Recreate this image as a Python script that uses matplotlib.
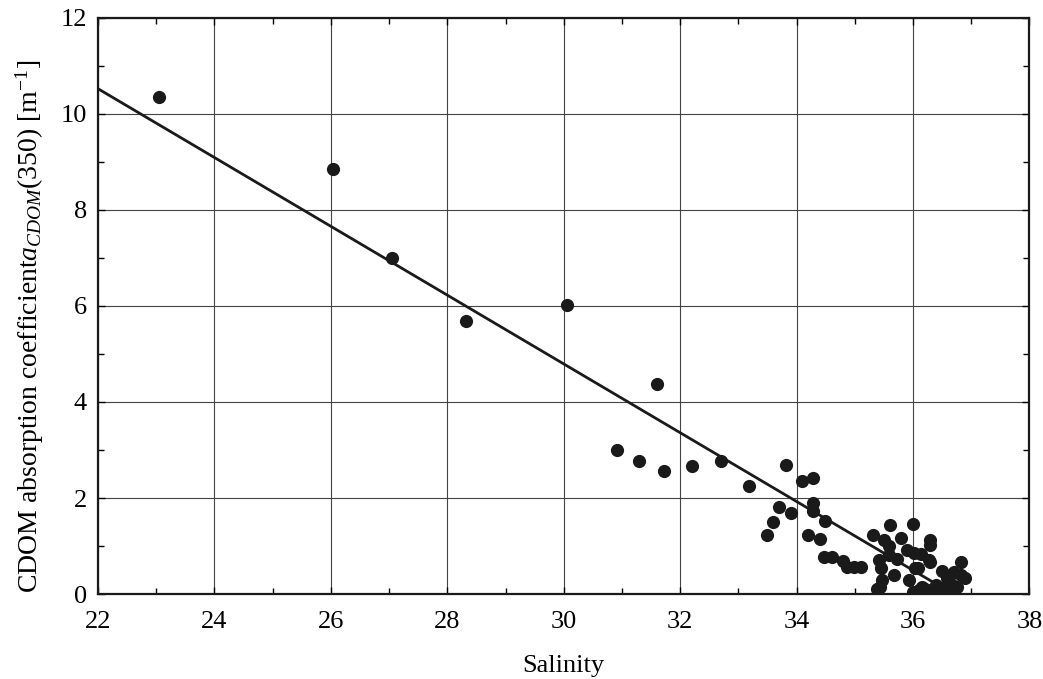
import matplotlib
matplotlib.use("Agg")
import matplotlib.pyplot as plt
from matplotlib.ticker import MultipleLocator

# salinity / a_CDOM(350) samples
salinity = [
    23.05, 26.03, 27.05, 28.32, 30.05, 31.60,
    30.91, 31.29, 31.72, 32.20, 32.71, 33.19,
    33.81, 34.09, 34.29, 34.29, 34.29, 33.70, 33.90, 33.60, 33.50,
    34.49, 34.20, 34.40, 34.47, 34.61, 34.80, 34.87, 34.98, 35.10,
    35.32, 35.60, 36.00, 35.51, 35.59, 35.79, 35.42, 35.45, 35.58,
    35.72, 35.90, 36.01, 36.14, 36.30, 36.30, 36.30, 36.08, 35.67,
    35.93, 35.47, 35.44, 35.38, 36.82, 36.50, 36.70, 36.90, 36.82,
    36.59, 36.04, 36.27, 36.60,
    36.00, 36.10, 36.20, 36.25, 36.35, 36.45, 36.55, 36.60, 36.70,
    36.75, 36.15, 36.40, 36.65,
]
a_cdom = [
    10.35, 8.85, 7.00, 5.69, 6.02, 4.37,
    3.00, 2.77, 2.56, 2.67, 2.77, 2.25,
    2.69, 2.35, 2.42, 1.90, 1.74, 1.81, 1.69, 1.51, 1.23,
    1.53, 1.23, 1.15, 0.78, 0.78, 0.68, 0.56, 0.57, 0.57,
    1.23, 1.44, 1.47, 1.12, 1.00, 1.16, 0.71, 0.54, 0.81,
    0.74, 0.92, 0.85, 0.83, 1.12, 1.02, 0.67, 0.54, 0.40,
    0.29, 0.29, 0.15, 0.10, 0.67, 0.49, 0.47, 0.33, 0.40,
    0.33, 0.54, 0.71, 0.22,
    0.05, 0.08, 0.10, 0.05, 0.10, 0.08, 0.12, 0.05, 0.10,
    0.15, 0.15, 0.20, 0.22,
]

# linear fit a = intercept + slope * (S - 22)
fit_range = [22.0, 36.5]
fit_intercept = 10.52
fit_slope = -0.716

plt.rcParams["font.family"] = "Liberation Serif"
plt.rcParams["mathtext.fontset"] = "custom"
plt.rcParams["mathtext.rm"] = "Liberation Serif"
plt.rcParams["mathtext.it"] = "Liberation Serif:italic"

fig = plt.figure(figsize=(10.43, 6.79), dpi=100)
ax = fig.add_axes([0.094, 0.125, 0.893, 0.849])

fit_y = [fit_intercept + fit_slope * (s - 22.0) for s in fit_range]
ax.plot(fit_range, fit_y, color="#1a1a1a", lw=2.0, zorder=3)
ax.plot(salinity, a_cdom, "o", color="#1a1a1a", markersize=9.5,
        markeredgewidth=0, zorder=4)

ax.set_xlim(22, 38)
ax.set_ylim(0, 12)
ax.xaxis.set_major_locator(MultipleLocator(2))
ax.xaxis.set_minor_locator(MultipleLocator(1))
ax.yaxis.set_major_locator(MultipleLocator(2))
ax.yaxis.set_minor_locator(MultipleLocator(1))
ax.tick_params(which="both", direction="in", top=True, right=True,
               labelsize=19)
ax.tick_params(axis="x", pad=12)
ax.tick_params(axis="y", pad=8)
ax.tick_params(which="major", length=5, width=1)
ax.tick_params(which="minor", length=4, width=1)

ax.grid(True, which="major", color="#444444", lw=0.8)
for sp in ax.spines.values():
    sp.set_linewidth(1.6)
    sp.set_color("#1a1a1a")

ax.set_xlabel("Salinity", fontsize=19, labelpad=16)
ax.set_ylabel(r"CDOM absorption coefficient$\mathit{a}_{\mathit{CDOM}}$(350) [m$^{-1}$]",
              fontsize=20)
ax.yaxis.set_label_coords(-0.056, 0.465)

fig.savefig("out.png", dpi=100)
